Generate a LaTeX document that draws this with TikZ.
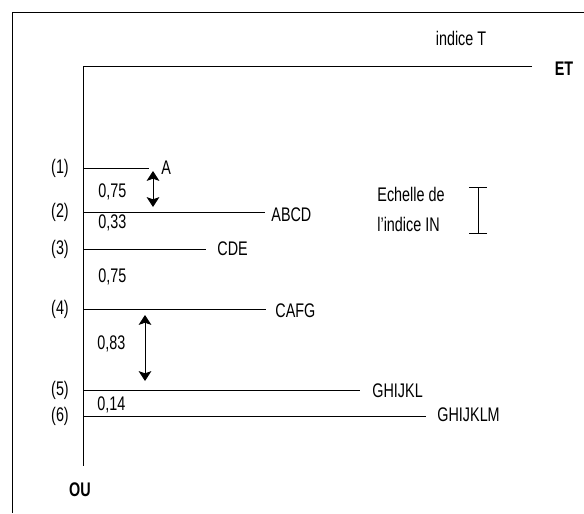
\documentclass[tikz,border=0pt]{standalone}
\usepackage{fontspec}
\setmainfont{Liberation Sans}[FakeStretch=0.73]
\usetikzlibrary{positioning, arrows.meta}

\begin{document}
\begin{tikzpicture}[x=0.025cm, y=-0.025cm, line width=0.6pt,
    lbl/.style={font=\fontsize{14}{16}\selectfont, inner sep=0pt},
    boldlbl/.style={font=\fontsize{14}{16}\selectfont\bfseries, inner sep=0pt},
    dist/.style={arrows = {Stealth[width=9pt, length=7pt, inset=1.5pt]-Stealth[width=9pt, length=7pt, inset=1.5pt]}},
    scalebar/.style={arrows = {Bar[width=13pt]-Bar[width=13pt]}}]
    \useasboundingbox (0,0) rectangle (584,513);
    \draw (584,12) -- (12,12) -- (12,513);

    \coordinate (orig) at (83,66);
    \coordinate (tend) at (532,66);
    \coordinate (bot) at (83,466);
    \draw (tend) -- (orig) -- (bot);
    \node[lbl] at (461,38) (indT) {indice T};
    \node[boldlbl] at (564,69) (et) {ET};
    \node[boldlbl] at (80,490) (ou) {OU};

    \foreach \n/\y/\ty/\xe/\xt/\txt in {1/168/168/149/161/A, 2/212/215/265/271/ABCD, 3/249/249/206/217/CDE,
        4/309/311/266/275/CAFG, 5/390/391/360/372/GHIJKL, 6/416/415/426/437/GHIJKLM} {
      \node[lbl] at (60,\y) (num\n) {(\n)};
      \coordinate (ax\n) at (83,\y);
      \coordinate (end\n) at (\xe,\y);
      \node[lbl, anchor=west] at (\xt,\ty) (grp\n) {\txt};
      \draw (ax\n) -- (end\n);
    }

    \node[lbl, anchor=west] at (98,192) (d12) {0,75};
    \node[lbl, anchor=west] at (98,223) (d23) {0,33};
    \node[lbl, anchor=west] at (98,277) (d34) {0,75};
    \node[lbl, anchor=west] at (97,344) (d45) {0,83};
    \node[lbl, anchor=west] at (97,405) (d56) {0,14};

    \coordinate (upA) at (153,171);
    \coordinate (dnA) at (153,207);
    \draw[dist] (upA) -- (dnA);
    \coordinate (upB) at (145,315);
    \coordinate (dnB) at (145,381);
    \draw[dist] (upB) -- (dnB);

    \node[lbl, anchor=west] at (377,194) (ech) {Echelle de};
    \node[lbl, anchor=west] at (377,224) (ind) {l'indice IN};
    \coordinate (sctop) at (478,187);
    \coordinate (scbot) at (478,234);
    \draw[scalebar] (sctop) -- (scbot);
\end{tikzpicture}
\end{document}
